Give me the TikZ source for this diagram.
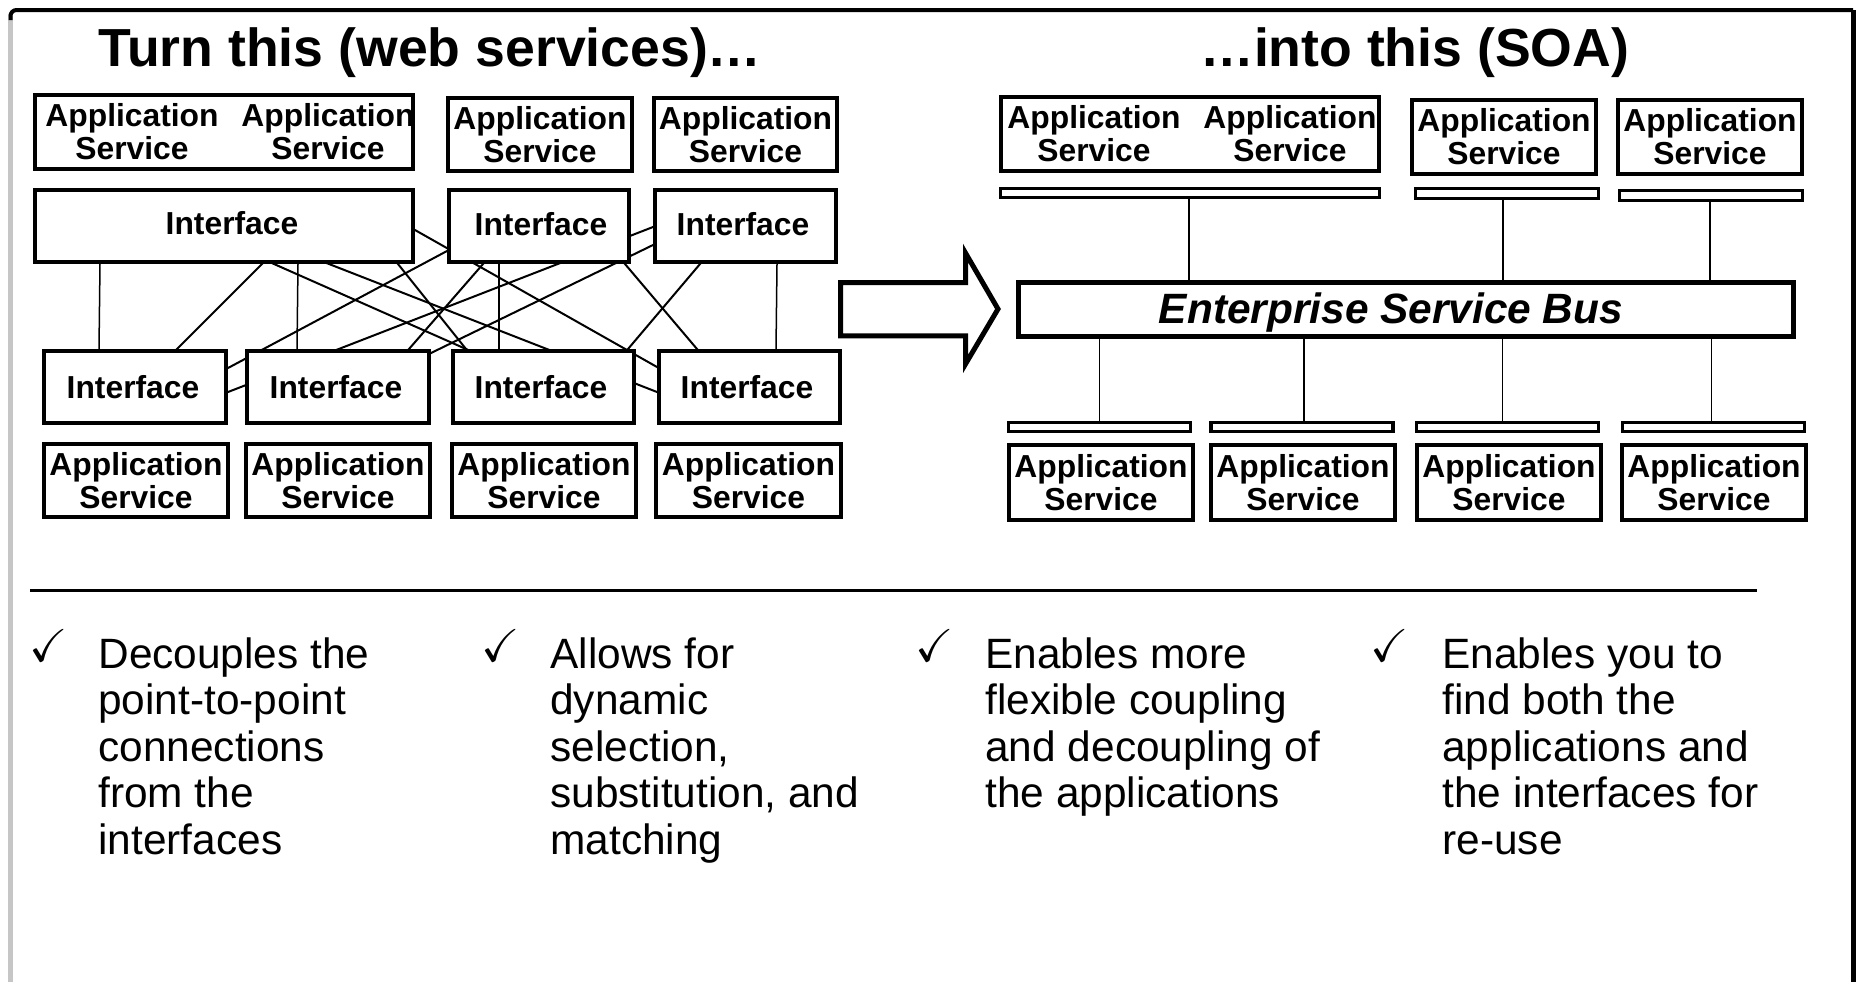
\documentclass[tikz,border=0pt]{standalone}
\usepackage{amssymb}
\usepackage{fontspec}
\setmainfont{Liberation Sans}
\usetikzlibrary{calc}
\pgfdeclarelayer{background}
\pgfsetlayers{background,main}
\newcommand\bxfont{\fontsize{15.9}{16.5}\selectfont\bfseries}
\newcommand\ttlfont{\fontsize{26.8}{30}\selectfont\bfseries}
\newcommand\esbfont{\fontsize{21.2}{25}\selectfont\bfseries\itshape}
\newcommand\bulfont{\fontsize{21.2}{23.25}\selectfont}
\newcommand\chkmark{$\checkmark$}
\tikzset{
  sz/.style 2 args={minimum width={#1*0.5pt}, minimum height={#2*0.5pt}},
  box/.style={draw, line width=2pt, fill=white, inner sep=0pt, align=center, font=\bxfont},
  boxtext/.style={inner sep=0pt, align=center, font=\bxfont},
  bar/.style={draw, line width=1.7pt, fill=white, inner sep=0pt},
  title/.style={font=\ttlfont, inner sep=0pt, anchor=base west},
  mesh/.style={line width=1pt, shorten <=-3pt, shorten >=-3pt},
  vmesh/.style={line width=0.75pt, shorten <=-3pt, shorten >=-3pt},
  bus/.style={line width=0.8pt},
  chk/.style={font=\fontsize{23}{23}\selectfont, inner sep=0pt},
  bullet/.style={anchor=north west, align=left, inner sep=0pt, font=\bulfont},
}
\begin{document}
\begin{tikzpicture}[x=0.5pt,y=-0.5pt]
\useasboundingbox (0,0) rectangle (1856,982);
% frame
\draw[gray!45, line width=2.2pt] (10.5,14) -- (10.5,982);
\draw[line width=2pt, rounded corners=3pt] (10.5,20) -- (10.5,10) -- (1853,10);
\draw[line width=2.5pt] (1853.5,10) -- (1853.5,982);
% titles
\node[title] (t1) at (98,66) {Turn this (web services)…};
\node[title] (t2) at (1200,66) {…into this (SOA)};
% ---------- left: point to point ----------
\node[box, sz={378}{74}] (A) at (224,132) {};
\node[boxtext] (At1) at (132,132) {Application\\Service};
\node[boxtext] (At2) at (328,132) {Application\\Service};
\node[box, sz={184}{73}] (B) at (540,134.5) {Application\\Service};
\node[box, sz={183}{73}] (C) at (745.5,134.5) {Application\\Service};
\node[box, sz={378}{72}] (I1) at (224,226) {};
\node[boxtext, anchor=base] (I1t) at (232,234) {Interface};
\node[box, sz={180}{72}] (I2) at (539,226) {};
\node[boxtext, anchor=base] (I2t) at (541,235) {Interface};
\node[box, sz={181}{72}] (I3) at (745.5,226) {};
\node[boxtext, anchor=base] (I3t) at (743,235) {Interface};
\node[box, sz={182}{72}] (I4) at (135,387) {};
\node[boxtext, anchor=base] (I4t) at (133,398) {Interface};
\node[box, sz={182}{72}] (I5) at (338,387) {};
\node[boxtext, anchor=base] (I5t) at (336,398) {Interface};
\node[box, sz={181}{72}] (I6) at (543.5,387) {};
\node[boxtext, anchor=base] (I6t) at (541,398) {Interface};
\node[box, sz={181}{72}] (I7) at (749.5,387) {};
\node[boxtext, anchor=base] (I7t) at (747,398) {Interface};
\node[box, sz={184}{73}] (P1) at (136,480.5) {Application\\Service};
\node[box, sz={184}{73}] (P2) at (338,480.5) {Application\\Service};
\node[box, sz={184}{73}] (P3) at (544,480.5) {Application\\Service};
\node[box, sz={185}{73}] (P4) at (748.5,480.5) {Application\\Service};
\begin{pgfonlayer}{background}
\draw[vmesh] ($(I1.south west)+(67,0)$) -- ($(I4.north west)+(57,0)$);
\draw[vmesh] ($(I1.south west)+(265,0)$) -- ($(I5.north west)+(52,0)$);
\draw[vmesh] ($(I2.south west)+(52,0)$) -- ($(I6.north west)+(48,0)$);
\draw[vmesh] ($(I3.south west)+(124,0)$) -- ($(I7.north west)+(119,0)$);
\draw[mesh] ($(I1.south west)+(229,0)$) -- ($(I4.north west)+(135,0)$);
\draw[mesh] ($(I1.south west)+(365,0)$) -- ($(I6.north west)+(15,0)$);
\draw[mesh] ($(I1.south west)+(241,0)$) -- ($(I6.north west)+(15,0)$);
\draw[mesh] ($(I1.south west)+(296,0)$) -- ($(I7.north west)+(0,43)$);
\draw[mesh] ($(I1.north east)+(0,42)$) -- ($(I7.north west)+(0,18)$);
\draw[mesh] ($(I4.north east)+(0,19)$) -- ($(I2.north west)+(0,63)$);
\draw[mesh] ($(I4.north east)+(0,43)$) -- ($(I3.north west)+(0,39)$);
\draw[mesh] ($(I2.south west)+(36,0)$) -- ($(I5.north west)+(164,0)$);
\draw[mesh] ($(I3.north west)+(0,57)$) -- ($(I5.north east)+(0,4)$);
\draw[mesh] ($(I2.south west)+(178,0)$) -- ($(I7.north west)+(40,0)$);
\draw[mesh] ($(I3.south west)+(47,0)$) -- ($(I6.north west)+(177,0)$);
\end{pgfonlayer}
% arrow
\draw[line width=2.5pt, fill=white, line join=miter] (840.5,282.5) -- (965.5,282.5) -- (965.5,253) -- (998,309) -- (965.5,364) -- (965.5,335.8) -- (840.5,335.8) -- cycle;
% ---------- right: SOA ----------
\node[box, sz={378}{74}] (RA) at (1190,134) {};
\node[boxtext] (RAt1) at (1094,134) {Application\\Service};
\node[boxtext] (RAt2) at (1290,134) {Application\\Service};
\node[box, sz={184}{74}] (R2) at (1504,137) {Application\\Service};
\node[box, sz={184}{74}] (R3) at (1710,137) {Application\\Service};
\node[bar, sz={379}{9}] (Bar1) at (1190,193) {};
\node[bar, sz={183}{10}] (Bar2) at (1507,193.5) {};
\node[bar, sz={183}{10}] (Bar3) at (1711,195.5) {};
\node[draw, line width=2.5pt, fill=white, inner sep=0pt, sz={775}{54}] (ESB) at (1406,309.5) {};
\node[font=\esbfont, inner sep=0pt, anchor=base] (ESBt) at (1391,323) {Enterprise Service Bus};
\node[bar, sz={182}{9}] (BB1) at (1099.5,427) {};
\node[bar, sz={182}{9}] (BB2) at (1302,427) {};
\node[bar, sz={182}{9}] (BB3) at (1507.5,427) {};
\node[bar, sz={182}{9}] (BB4) at (1713.5,427) {};
\node[box, sz={184}{75}] (RB1) at (1101,482.5) {Application\\Service};
\node[box, sz={184}{75}] (RB2) at (1303,482.5) {Application\\Service};
\node[box, sz={184}{75}] (RB3) at (1509,482.5) {Application\\Service};
\node[box, sz={184}{75}] (RB4) at (1714,482.5) {Application\\Service};
\draw[bus] ($(Bar1.south)+(-1,0)$) coordinate (u1) -- (u1 |- ESB.north);
\draw[bus] ($(Bar2.south)+(-4,0)$) coordinate (u2) -- (u2 |- ESB.north);
\draw[bus] ($(Bar3.south)+(-1,0)$) coordinate (u3) -- (u3 |- ESB.north);
\draw[bus] (BB1.north) -- (BB1.north |- ESB.south);
\draw[bus] ($(BB2.north)+(2,0)$) coordinate (d2) -- (d2 |- ESB.south);
\draw[bus] ($(BB3.north)+(-5,0)$) coordinate (d3) -- (d3 |- ESB.south);
\draw[bus] ($(BB4.north)+(-2,0)$) coordinate (d4) -- (d4 |- ESB.south);
% rule
\draw[line width=1.5pt] (30,590) -- (1757,590);
% bullets
\node[chk] (c1) at (49,646) {\chkmark};
\node[chk] (c2) at (501,646) {\chkmark};
\node[chk] (c3) at (935,646) {\chkmark};
\node[chk] (c4) at (1390,646) {\chkmark};
\node[bullet] (b1) at (98,637) {Decouples the\\point-to-point\\connections\\from the\\interfaces};
\node[bullet] (b2) at (550,637) {Allows for\\dynamic\\selection,\\substitution, and\\matching};
\node[bullet] (b3) at (985,637) {Enables more\\flexible coupling\\and decoupling of\\the applications};
\node[bullet] (b4) at (1442,637) {Enables you to\\find both the\\applications and\\the interfaces for\\re-use};
\end{tikzpicture}
\end{document}
